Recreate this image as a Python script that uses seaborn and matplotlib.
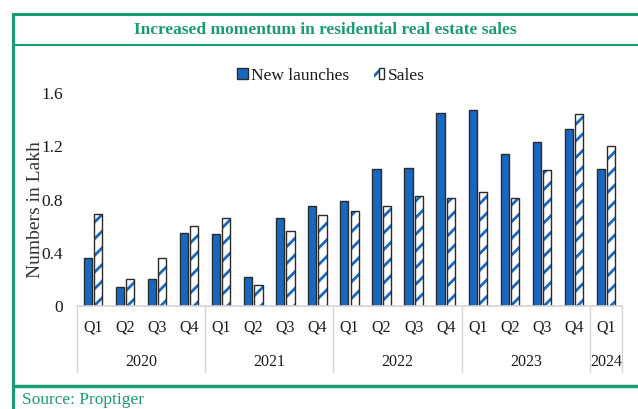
import pandas as pd
import seaborn as sns
import matplotlib.pyplot as plt
from matplotlib.lines import Line2D
from matplotlib.patches import Rectangle
from matplotlib.legend_handler import HandlerTuple

# chart data
years = ['2020'] * 4 + ['2021'] * 4 + ['2022'] * 4 + ['2023'] * 4 + ['2024']
quarters = ['Q1', 'Q2', 'Q3', 'Q4'] * 4 + ['Q1']
new_launches = [0.36, 0.14, 0.20, 0.55, 0.54, 0.22, 0.66, 0.75,
                0.79, 1.03, 1.04, 1.45, 1.47, 1.14, 1.23, 1.33, 1.03]
sales = [0.69, 0.20, 0.36, 0.60, 0.66, 0.16, 0.56, 0.68,
         0.71, 0.75, 0.83, 0.81, 0.86, 0.81, 1.02, 1.44, 1.20]
series = ['New launches', 'Sales']
yticks = [0, 0.4, 0.8, 1.2, 1.6]

blue = '#1868C2'
green = '#1B9B74'
dark = '#2a2a2a'
textc = '#1a1a1a'

periods = [y + q for y, q in zip(years, quarters)]
df = pd.DataFrame({'period': periods * 2,
                   'value': new_launches + sales,
                   'series': [series[0]] * len(periods) + [series[1]] * len(periods)})

sns.set_style('white')
plt.rcParams['font.family'] = ['Liberation Serif', 'DejaVu Serif']
plt.rcParams['hatch.linewidth'] = 2.0

fig = plt.figure(figsize=(6.38, 4.09), dpi=100)
ax = fig.add_axes([77 / 638, 1 - 306 / 409, 545 / 638, 213 / 409])

sns.barplot(data=df, x='period', y='value', hue='series', order=periods,
            hue_order=series, palette=[blue, 'white'], width=0.64, gap=0.2,
            edgecolor=dark, linewidth=1.0, saturation=1, legend=False, ax=ax)

# second half of the bars are sales: blue hatching with a dark outline
bars = [p for p in ax.patches if isinstance(p, Rectangle)]
nl_bars = bars[:len(periods)]
sales_bars = bars[len(periods):]
for p in sales_bars:
    p.set_hatch('//')
    p.set_edgecolor(blue)
    p.set_linewidth(0)
    ax.add_patch(Rectangle(p.get_xy(), p.get_width(), p.get_height(),
                           fill=False, edgecolor=dark, linewidth=1.0))

ax.set_ylim(0, 1.6)
ax.set_xlim(-0.5, len(periods) - 0.5)
ax.set_yticks(yticks)
ax.set_yticklabels(['0', '0.4', '0.8', '1.2', '1.6'], fontsize=12.5, color=textc)
ax.set_xticks(range(len(periods)))
ax.set_xticklabels(quarters, fontsize=11.5, color=textc)
ax.tick_params(axis='both', length=0)
ax.tick_params(axis='y', pad=10)
ax.tick_params(axis='x', pad=10)
ax.set_xlabel('')
ax.set_ylabel('')
for s in ax.spines.values():
    s.set_visible(False)

# two-level category axis
trans = ax.get_xaxis_transform()
gridc = '#d4d4d4'
ax.plot([-0.5, len(periods) - 0.5], [0, 0], color=gridc, lw=1.2,
        transform=trans, clip_on=False)
edges = [-0.5]
for i in range(1, len(years)):
    if years[i] != years[i - 1]:
        edges.append(i - 0.5)
edges.append(len(years) - 0.5)
for e in edges:
    ax.plot([e, e], [0, -0.31], color=gridc, lw=1.0, transform=trans,
            clip_on=False)
for y in dict.fromkeys(years):
    idx = [i for i, v in enumerate(years) if v == y]
    ax.text(sum(idx) / len(idx), -0.263, y, transform=trans, ha='center',
            va='center', fontsize=11.5, color=textc)

# legend: proxy keys in the same style as the bars
key_nl = Rectangle((0, 0), 1, 1, facecolor=blue, edgecolor=dark, linewidth=1.0)
key_hatch = Rectangle((0, 0), 1, 1, facecolor='white', edgecolor=blue,
                      hatch='//', linewidth=0)
key_edge = Rectangle((0, 0), 1, 1, fill=False, edgecolor=dark, linewidth=1.0)
leg = ax.legend(handles=[key_nl, (key_hatch, key_edge)], labels=series,
                handler_map={tuple: HandlerTuple(ndivide=None, pad=0)},
                loc='center', bbox_to_anchor=(0.466, 1.08), ncol=2,
                frameon=False, fontsize=12.5, handlelength=0.6, handleheight=0.6,
                handletextpad=0.2, columnspacing=1.4)
for t in leg.get_texts():
    t.set_color(textc)

fig.text(35 / 638, 1 - 210 / 409, 'Numbers in Lakh', rotation=90, ha='center',
         va='center', fontsize=14, color='#333333')

# green frame with title band and source line
fig.add_artist(Line2D([13 / 638, 1], [1 - 14 / 409] * 2, color=green, lw=2.2))
fig.add_artist(Line2D([13 / 638, 1], [1 - 45 / 409] * 2, color=green, lw=1.5))
fig.add_artist(Line2D([13 / 638] * 2, [0, 1 - 14 / 409], color=green, lw=2.2))
fig.add_artist(Line2D([13 / 638, 1], [1 - 386 / 409] * 2, color=green, lw=2.5))
fig.text(325 / 638, 1 - 30 / 409, 'Increased momentum in residential real estate sales',
         ha='center', va='center', fontsize=12.5, fontweight='bold', color=green)
fig.text(22 / 638, 1 - 400 / 409, 'Source: Proptiger', ha='left', va='center',
         fontsize=12.5, color=green)

fig.savefig('out.png', dpi=100)
